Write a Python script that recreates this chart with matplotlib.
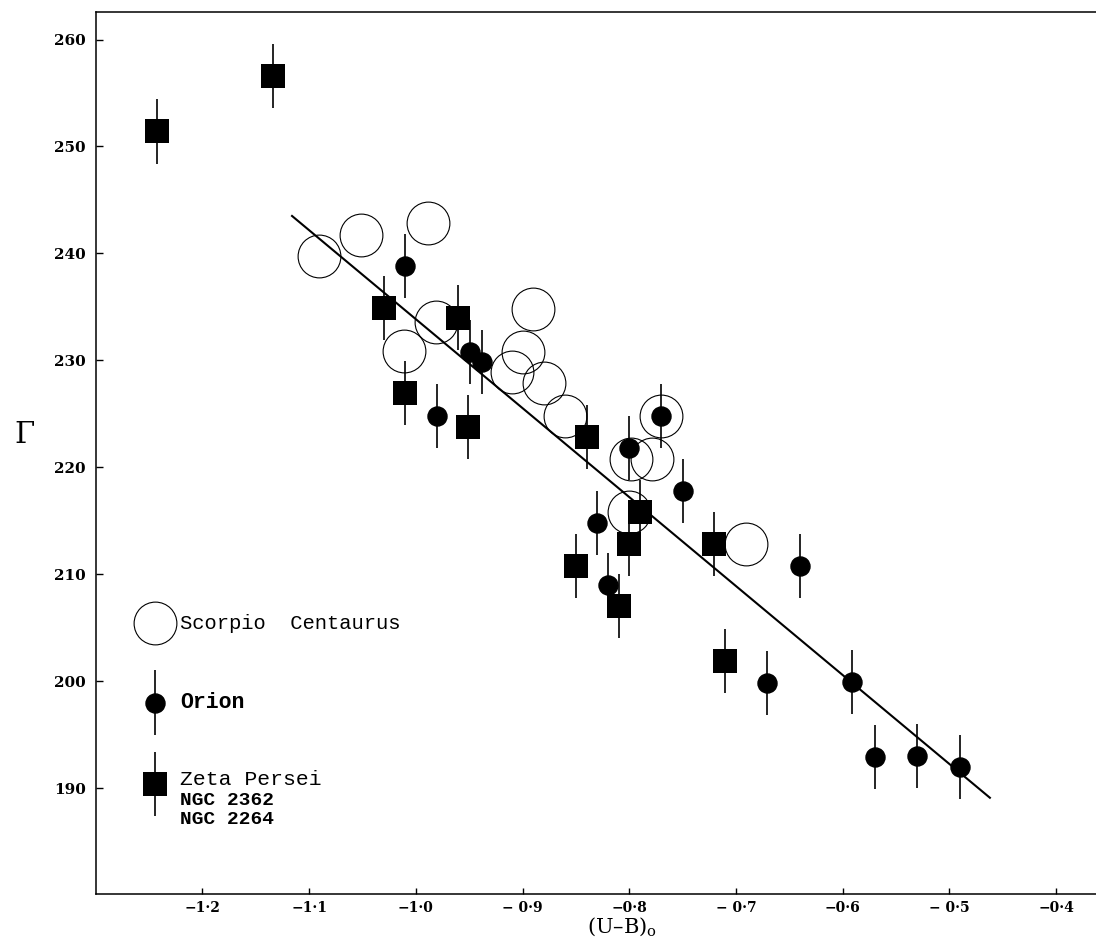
import numpy as np
import matplotlib.pyplot as plt

# %% data
# Scorpio Centaurus (open circles, no error bars)
scorpio_x = [-1.091, -1.051, -0.989, -1.011, -0.981, -0.890, -0.900, -0.910,
             -0.880, -0.860, -0.770, -0.798, -0.779, -0.800, -0.691]
scorpio_y = [239.8, 241.7, 242.8, 230.9, 233.6, 234.8, 230.8, 228.9,
             227.9, 224.8, 224.8, 220.8, 220.8, 215.8, 212.8]

# Orion (filled circles)
orion_x = [-1.010, -0.949, -0.938, -0.980, -0.770, -0.800, -0.750, -0.830,
           -0.820, -0.640, -0.671, -0.591, -0.570, -0.530, -0.490]
orion_y = [238.8, 230.75, 229.85, 224.8, 224.8, 221.8, 217.8, 214.8,
           209.0, 210.8, 199.8, 199.9, 192.9, 193.0, 192.0]

# Zeta Persei, NGC 2362, NGC 2264 (filled squares)
zeta_x = [-1.243, -1.134, -1.030, -0.960, -1.010, -0.951, -0.840, -0.790,
          -0.800, -0.850, -0.810, -0.721, -0.710]
zeta_y = [251.4, 256.6, 234.9, 234.0, 226.95, 223.8, 222.8, 215.8,
          212.85, 210.8, 207.0, 212.8, 201.9]

gamma_err = 3.0

# fitted relation
fit_x = [-1.116, -0.462]
fit_y = [243.5, 189.1]

x_ticks = [-1.2, -1.1, -1.0, -0.9, -0.8, -0.7, -0.6, -0.5, -0.4]
x_ticklabels = ['−1·2', '−1·1', '−1·0', '− 0·9', '−0·8', '− 0·7',
                '−0·6', '− 0·5', '−0·4']
y_ticks = [190, 200, 210, 220, 230, 240, 250, 260]

legend_labels = ['Scorpio  Centaurus', 'Orion', 'Zeta Persei']
legend_sub = ['NGC 2362', 'NGC 2264']

# %% figure
W, H = 1096, 940
fig = plt.figure(figsize=(W / 100, H / 100), dpi=100)
ax = fig.add_axes([95.7 / W, (H - 894) / H, (1109.4 - 95.7) / W, (894 - 11.7) / H])
ax.set_xlim(-1.30, -0.35)
ax.set_ylim(180.1, 262.6)

ax.plot(fit_x, fit_y, color='black', lw=1.5, zorder=2)

ax.plot(scorpio_x, scorpio_y, 'o', ms=30.8, mfc='none', mec='black', mew=0.8, zorder=3)
ax.errorbar(orion_x, orion_y, yerr=gamma_err, fmt='o', color='black', ms=13.7,
            elinewidth=1.2, capsize=0, zorder=4)
ax.errorbar(zeta_x, zeta_y, yerr=gamma_err, fmt='s', color='black', ms=17, mew=0,
            elinewidth=1.2, capsize=0, zorder=4)

# hand-made key in the lower left (typewriter lettering)
key_x = -1.244
key_y = [205.4, 198.0, 190.4]
text_x = -1.221
tw = 'Liberation Mono'
ax.plot(key_x, key_y[0], 'o', ms=30.8, mfc='none', mec='black', mew=0.8)
ax.errorbar(key_x, key_y[1], yerr=gamma_err, fmt='o', color='black', ms=13.7,
            elinewidth=1.2, capsize=0)
ax.errorbar(key_x, key_y[2], yerr=gamma_err, fmt='s', color='black', ms=17, mew=0,
            elinewidth=1.2, capsize=0)
ax.text(text_x, key_y[0], legend_labels[0], family=tw, fontsize=14.8,
        va='center', ha='left')
ax.text(text_x, key_y[1], legend_labels[1], family=tw, fontsize=15.5,
        fontweight='bold', va='center', ha='left')
ax.text(text_x, 190.8, legend_labels[2], family=tw, fontsize=15.4,
        va='center', ha='left')
ax.text(text_x, 188.8, legend_sub[0], family=tw, fontsize=14,
        fontweight='bold', va='center', ha='left')
ax.text(text_x, 187.1, legend_sub[1], family=tw, fontsize=14,
        fontweight='bold', va='center', ha='left')

# axes styling
for s in ['top', 'left', 'bottom', 'right']:
    ax.spines[s].set_linewidth(1.1)
ax.set_xticks(x_ticks)
ax.set_xticklabels(x_ticklabels, family='DejaVu Serif', fontweight='bold', fontsize=10)
ax.set_yticks(y_ticks)
ax.set_yticklabels([str(v) for v in y_ticks], family='DejaVu Serif', fontweight='bold',
                   fontsize=11)
ax.tick_params(axis='x', direction='in', length=4.5, width=1, pad=5)
ax.tick_params(axis='y', direction='in', length=5, width=1, pad=7)

plt.rcParams['mathtext.fontset'] = 'dejavuserif'
fig.text(24 / W, 1 - 435 / H, 'Γ', family='DejaVu Serif', fontsize=21,
         ha='center', va='center')
fig.text(622 / W, 1 - 927 / H, '(U–B)$_\\mathrm{o}$', family='DejaVu Serif',
         fontsize=15, ha='center', va='center')

fig.savefig('out.png', dpi=100)
